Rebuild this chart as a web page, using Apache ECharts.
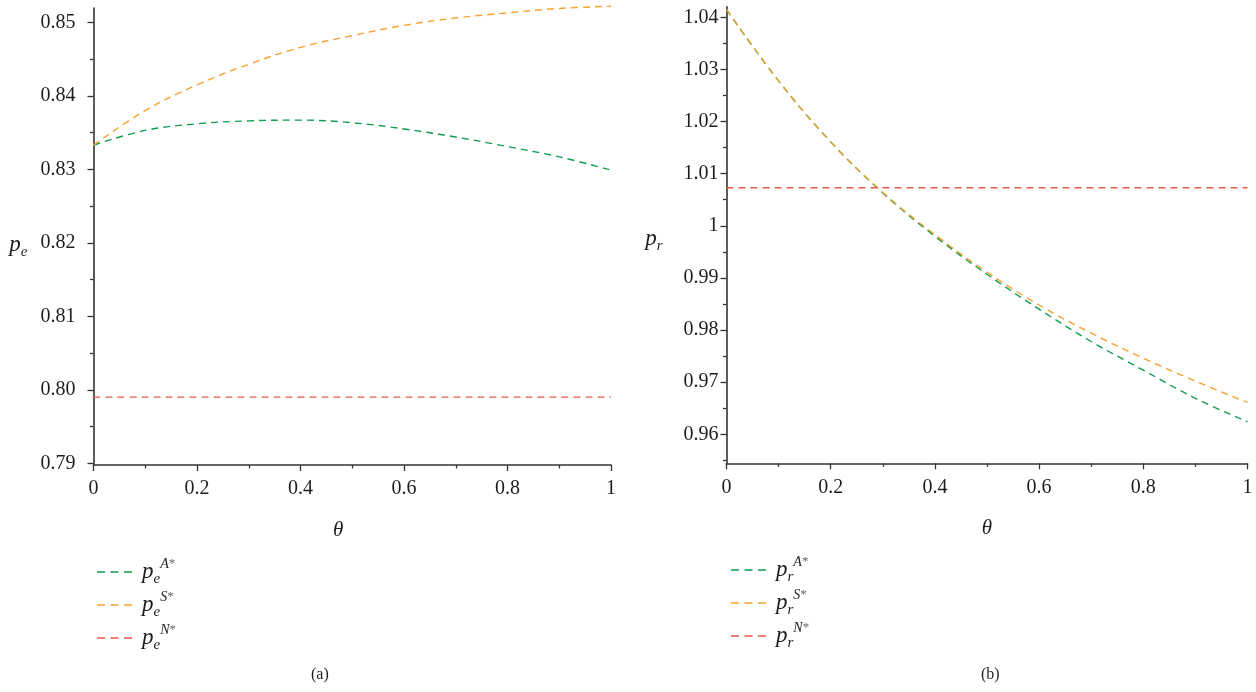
<!DOCTYPE html>
<html>
<head>
<meta charset="utf-8">
<script src="https://cdn.jsdelivr.net/npm/echarts@6/dist/echarts.min.js"></script>
<style>
html,body{margin:0;padding:0;background:#fff;}
#chart{width:1256px;height:692px;}
</style>
</head>
<body>
<div id="chart"></div>
<script>
// ---- data ----
const theta = [0, 0.1, 0.2, 0.3, 0.4, 0.5, 0.6, 0.7, 0.8, 0.9, 1.0];
// panel (a): p_e
const peA = [0.8333, 0.8353, 0.8362, 0.8366, 0.8367, 0.83635, 0.8355, 0.8344, 0.8331, 0.8317, 0.8299];
const peS = [0.8333, 0.8380, 0.8415, 0.8443, 0.8466, 0.8482, 0.8496, 0.8506, 0.8513, 0.8519, 0.8522];
const peN = [0.7990, 0.7990, 0.7990, 0.7990, 0.7990, 0.7990, 0.7990, 0.7990, 0.7990, 0.7990, 0.7990];
// panel (b): p_r
const prA = [1.0415, 1.0278, 1.0161, 1.0063, 0.9980, 0.9907, 0.9840, 0.9778, 0.9723, 0.9669, 0.9624];
const prS = [1.0415, 1.0278, 1.0161, 1.0064, 0.9983, 0.9911, 0.9848, 0.9794, 0.9746, 0.9702, 0.9661];
const prN = [1.0073, 1.0073, 1.0073, 1.0073, 1.0073, 1.0073, 1.0073, 1.0073, 1.0073, 1.0073, 1.0073];
// tick labels
const leftYTicks = ['0.79', '0.80', '0.81', '0.82', '0.83', '0.84', '0.85'];
const leftYMinor = [0.795, 0.805, 0.815, 0.825, 0.835, 0.845];
const rightYTicks = ['0.96', '0.97', '0.98', '0.99', '1', '1.01', '1.02', '1.03', '1.04'];
const rightYMinor = [0.955, 0.965, 0.975, 0.985, 0.995, 1.005, 1.015, 1.025, 1.035];

const FONT = 'Liberation Serif';
const TXT = '#1e1e1e';
const AX = '#333';
const C_A = '#129c50', C_S = '#f5a22e', C_N = '#eb5a46';

const pairs = (ys) => theta.map((t, i) => [t, ys[i]]);

const richStyles = {
  p: {fontFamily: FONT, fontStyle: 'italic', fontSize: 23, lineHeight: 30, color: TXT, padding: [0, 0, 0, 5]},
  pn: {fontFamily: FONT, fontStyle: 'italic', fontSize: 23, lineHeight: 30, color: TXT},
  b: {fontFamily: FONT, fontStyle: 'italic', fontSize: 15, lineHeight: 12, verticalAlign: 'bottom', color: TXT},
  t: {fontFamily: FONT, fontStyle: 'italic', fontSize: 14, lineHeight: 12, verticalAlign: 'top', color: TXT},
  s: {fontFamily: FONT, fontSize: 13, lineHeight: 12, verticalAlign: 'top', color: '#666'}
};
const legendText = {
  peA: '{p|p}{b|e}{t|A}{s|*}', peS: '{p|p}{b|e}{t|S}{s|*}', peN: '{p|p}{b|e}{t|N}{s|*}',
  prA: '{p|p}{b|r}{t|A}{s|*}', prS: '{p|p}{b|r}{t|S}{s|*}', prN: '{p|p}{b|r}{t|N}{s|*}'
};
const dashIcon = 'path://M0,0H8V1.6H0Z M13.5,0H21.5V1.6H13.5Z M27,0H35V1.6H27Z';

function xAxisCfg(gi) {
  return {
    type: 'value', gridIndex: gi, min: 0, max: 1, interval: 0.2,
    name: '{th|θ}', nameLocation: 'middle', nameGap: 55,
    nameTextStyle: {rich: {th: {fontFamily: FONT, fontStyle: 'italic', fontSize: 21, color: TXT}},
                    padding: gi === 0 ? [0, 28, 0, 0] : [0, 0, 0, 0]},
    axisLine: {show: true, onZero: false, lineStyle: {color: AX, width: 1.6}},
    axisTick: {show: true, length: 6, lineStyle: {color: AX, width: 1.3}},
    minorTick: {show: true, splitNumber: 2, length: 3.5, lineStyle: {color: AX, width: 1.3}},
    axisLabel: {fontFamily: FONT, fontSize: 20, color: TXT, margin: 14},
    splitLine: {show: false}, minorSplitLine: {show: false}
  };
}
function yAxisCfg(gi, min, max, ticks, margin, nameStr, nameGap, namePad) {
  return {
    type: 'value', gridIndex: gi, min: min, max: max, position: 'left',
    name: nameStr, nameLocation: 'middle', nameRotate: 0, nameGap: nameGap,
    nameTextStyle: {rich: richStyles, padding: namePad},
    axisLine: {show: true, onZero: false, lineStyle: {color: AX, width: 1.6}},
    axisTick: {show: true, length: 6, customValues: ticks.map(Number), lineStyle: {color: AX, width: 1.3}},
    axisLabel: {fontFamily: FONT, fontSize: 20, color: TXT, margin: margin,
                customValues: ticks.map(Number),
                formatter: (v) => { const i = ticks.findIndex(s => Math.abs(Number(s) - v) < 1e-9); return i >= 0 ? ticks[i] : ''; }},
    splitLine: {show: false}
  };
}
function yMinorCfg(gi, min, max, vals) {
  return {
    type: 'value', gridIndex: gi, min: min, max: max, position: 'left', offset: 0,
    axisLine: {show: false, onZero: false},
    axisTick: {show: true, length: 3.5, customValues: vals, lineStyle: {color: AX, width: 1.3}},
    axisLabel: {show: false}, splitLine: {show: false}
  };
}
function lineSeries(name, xi, yi, ys, color) {
  return {
    name: name, type: 'line', xAxisIndex: xi, yAxisIndex: yi, data: pairs(ys),
    showSymbol: false, symbol: 'none', smooth: 0.4, clip: false, silent: true,
    lineStyle: {color: color, width: 1.4, type: [7, 5]}, itemStyle: {color: color}
  };
}

const L_MIN = 0.78977, L_MAX = 0.85196;
const R_MIN = 0.95443, R_MAX = 1.04203;

const legendBase = {
  orient: 'vertical', itemWidth: 35, itemHeight: 1.6, itemGap: 3, selectedMode: false,
  icon: dashIcon,
  formatter: (n) => legendText[n], textStyle: {rich: richStyles}
};

const option = {
  backgroundColor: '#fff',
  animation: false,
  grid: [
    {left: 93.5, top: 8, width: 517.5, height: 457},
    {left: 726.5, top: 6.7, width: 521, height: 456.6}
  ],
  xAxis: [xAxisCfg(0), xAxisCfg(1)],
  yAxis: [
    yAxisCfg(0, L_MIN, L_MAX, leftYTicks, 18, '{pn|p}{b|e}', 66, [16, 0, 0, 0]),
    yAxisCfg(1, R_MIN, R_MAX, rightYTicks, 8, '{pn|p}{b|r}', 64, [8, 0, 0, 0]),
    yMinorCfg(0, L_MIN, L_MAX, leftYMinor),
    yMinorCfg(1, R_MIN, R_MAX, rightYMinor)
  ],
  legend: [
    Object.assign({}, legendBase, {left: 92, top: 552, data: ['peA', 'peS', 'peN']}),
    Object.assign({}, legendBase, {left: 726, top: 550, data: ['prA', 'prS', 'prN']})
  ],
  graphic: [
    {type: 'text', left: 311, top: 667, style: {text: '(a)', font: '16px "Liberation Serif"', fill: TXT}},
    {type: 'text', left: 981, top: 667, style: {text: '(b)', font: '16px "Liberation Serif"', fill: TXT}}
  ],
  series: [
    lineSeries('peA', 0, 0, peA, C_A),
    lineSeries('peS', 0, 0, peS, C_S),
    lineSeries('peN', 0, 0, peN, C_N),
    lineSeries('prA', 1, 1, prA, C_A),
    lineSeries('prS', 1, 1, prS, C_S),
    lineSeries('prN', 1, 1, prN, C_N)
  ]
};

const chart = echarts.init(document.getElementById('chart'), null, {renderer: 'canvas'});
chart.setOption(option);
</script>
</body>
</html>
